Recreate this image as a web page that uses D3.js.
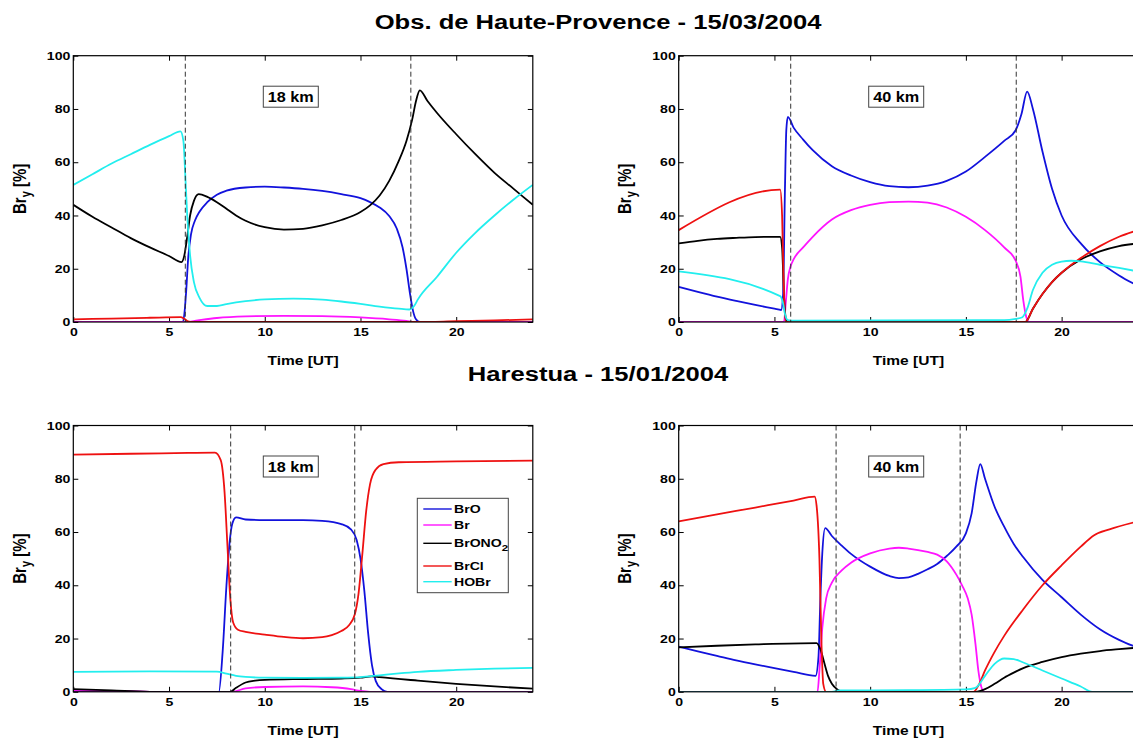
<!DOCTYPE html>
<html>
<head>
<meta charset="utf-8">
<script src="https://cdn.jsdelivr.net/npm/d3@7"></script>
<style>
body { margin: 0; background: #fff; }
svg { display: block; font-family: "Liberation Sans", Arial, sans-serif; font-weight: bold; }
</style>
</head>
<body>
<div id="chart"></div>
<script>
// Br_y partitioning, diurnal cycle (% of Br_y)

const species = ["BrO", "Br", "BrONO2", "BrCl", "HOBr"];
const xTicks = [0, 5, 10, 15, 20];
const yTicks = [0, 20, 40, 60, 80, 100];

// sunrise / sunset (dashed lines)
const ohpSun = [5.85, 17.63];
const harSun = [8.22, 14.7];

// --- Obs. de Haute-Provence, 18 km
const ohp18BrO = [[0,0],[5.7,0],[5.8,3],[5.9,12],[6.0,24],[6.15,33],[6.35,38],[6.6,41.5],[7,45],[7.5,47.8],[8,49.3],[9,50.5],[10,50.8],[11,50.5],[12,50],[13,49.2],[14,48],[15,46.5],[15.5,45],[16,43],[16.5,39.8],[16.9,35],[17.2,28],[17.4,20],[17.6,10],[17.75,4],[17.9,1],[18.1,0],[24,0]];
const ohp18Br = [[0,0],[5.9,0],[6.5,0.6],[7.5,1.5],[9,2.1],[11,2.3],[13,2.2],[15,1.7],[16.5,1.0],[17.4,0.4],[17.8,0],[24,0]];
const ohp18BrONO2 = [[0,44],[1,39.5],[2,35.5],[3,31.5],[4,28],[5,24.8],[5.65,22.5],[5.8,25],[5.95,32],[6.1,40],[6.3,45.5],[6.55,48],[7,47],[7.5,45],[8,42.5],[8.5,40],[9,38],[10,35.6],[11,34.7],[12,35],[13,36.3],[14,38.3],[15,41.3],[15.5,43.8],[16,47.5],[16.5,53],[17,60.5],[17.4,68],[17.7,76],[17.9,83],[18.1,87],[18.5,83],[19,78.5],[20,70.5],[21,63],[22,56],[23,50],[24,44]];
const ohp18BrCl = [[0,1],[2,1.3],[4,1.6],[5.6,1.8],[5.8,1.2],[6.0,0.2],[6.2,0],[18,0],[20,0.3],[22,0.6],[24,1]];
const ohp18HOBr = [[0,51.5],[1,55.5],[2,59.5],[3,63],[4,66.5],[5,69.8],[5.6,71.6],[5.75,68],[5.85,55],[5.95,40],[6.1,25],[6.3,15],[6.6,9],[7,6],[7.5,6],[8,6.7],[9,7.8],[10,8.5],[11.5,8.8],[13,8.4],[14,7.7],[15,6.8],[16,5.8],[17,5.0],[17.55,4.7],[17.8,6],[18,8.5],[19,17],[20,26],[21,33.5],[22,40],[23,46],[24,51.5]];

// --- Obs. de Haute-Provence, 40 km
const ohp40BrO = [[0,13.2],[1,11.3],[2,9.5],[3,7.9],[4,6.4],[5,5],[5.35,4.5],[5.45,10],[5.55,50],[5.62,72],[5.7,77],[6,73],[6.5,68.5],[7,64.5],[8,58.5],[9,55],[10,52.5],[11,51],[12,50.6],[13,51.2],[14,53],[15,56.5],[16,62],[17,68],[17.6,72],[17.9,78],[18.2,86.5],[18.5,80],[19,64],[19.5,50],[20,40],[21,29.5],[22,22.5],[23,17.5],[24,13.5]];
const ohp40Br = [[0,0],[5.5,0],[5.6,8],[5.7,16],[5.85,21],[6,23.5],[6.5,28],[7,32],[8,38.5],[9,42],[10,44],[11,45],[12,45.2],[13,44.8],[14,43],[15,39.5],[16,34.5],[17,28],[17.6,23],[17.85,17],[18,8],[18.15,2],[18.3,0],[24,0]];
const ohp40BrONO2 = [[0,29.5],[1,30.5],[2,31.2],[3,31.6],[4,31.9],[5.3,32],[5.4,28],[5.5,10],[5.6,1],[5.7,0],[18.1,0],[18.5,5],[19,10.5],[19.5,15],[20,18.5],[21,23.5],[22,26.5],[23,28.5],[24,29.5]];
const ohp40BrCl = [[0,34.5],[5.3,49.7],[5.4,40],[5.5,10],[5.6,0],[18.1,0],[18.5,5],[19,10.5],[19.5,15],[20,18.5],[21,24],[22,28.5],[23,32],[24,34.5]];
const ohp40HOBr = [[0,19],[5.3,9.7],[5.45,7],[5.55,3],[5.7,0.7],[6,0.5],[17,0.7],[17.6,1.2],[17.95,1.8],[18.2,5],[18.5,12],[19,18.5],[19.5,21.5],[20,22.7],[20.5,23],[21,22.8],[22,21.5],[23,20.3],[24,19]];

// --- Harestua, 18 km
const har18BrO = [[0,0],[7.6,0],[7.8,15],[8.0,40],[8.15,55],[8.3,63],[8.5,65.5],[9,64.7],[10,64.5],[12,64.5],[13,64.2],[14,63],[14.5,61],[14.8,57],[15,50],[15.2,38],[15.4,22],[15.6,10],[15.8,4],[16.1,1],[16.4,0],[24,0]];
const har18Br = [[0,0.4],[3,0.2],[4,0],[8.3,0],[9,1.3],[10,1.8],[12,2],[13.5,1.7],[14.5,1],[15,0.3],[15.5,0],[24,0]];
const har18BrONO2 = [[0,1],[2,0.5],[4,0],[8.2,0],[8.5,1.5],[9,3.5],[9.5,4.2],[10,4.5],[12,4.8],[14,5],[15,5.3],[15.6,5.8],[16,5.5],[18,4.2],[20,3],[22,2],[24,1.2]];
const har18BrCl = [[0,89.1],[3,89.4],[6,89.7],[7.4,89.8],[7.7,87],[7.9,75],[8.05,55],[8.2,35],[8.35,26],[8.6,23.3],[9,22.5],[10,21.5],[11,20.6],[12,20.1],[13,20.5],[13.5,21.3],[14,22.8],[14.4,25],[14.7,29],[14.9,37],[15.1,52],[15.3,68],[15.5,78],[15.8,83.5],[16.2,85.5],[17,86.2],[20,86.5],[24,86.8]];
const har18HOBr = [[0,7.5],[4,7.7],[7.5,7.6],[8,6.8],[8.5,6],[9,5.6],[10,5.3],[12,5.2],[14,5.3],[15,5.5],[16,6.2],[17,6.9],[18,7.5],[20,8.2],[22,8.7],[24,9]];

// --- Harestua, 40 km
const har40BrO = [[0,17],[1,15.2],[2,13.5],[3,11.8],[4,10.3],[5,8.9],[6,7.5],[7.15,6],[7.3,13],[7.4,35],[7.5,52],[7.65,61.5],[8,58.5],[8.5,55],[9,51.8],[10,47],[11,43.5],[11.5,42.7],[12,43],[12.5,44.3],[13,46],[13.5,48],[14,51],[14.5,54.5],[15,59.5],[15.3,67],[15.55,79],[15.75,85.5],[16,80],[16.5,69.5],[17,62],[17.5,55.5],[18,50.5],[19,42],[20,35.5],[21,29],[22,23.5],[23,19.5],[24,16.5]];
const har40Br = [[0,0],[7.25,0],[7.35,8],[7.5,24],[7.7,35],[8,41],[8.5,45.5],[9,48.5],[10,52],[11,53.8],[11.5,54.1],[12,53.8],[13,52.5],[13.5,51.5],[14,49],[14.5,44],[14.8,40],[15.1,35],[15.3,29],[15.5,18],[15.65,8],[15.8,2],[15.95,0],[24,0]];
const har40BrONO2 = [[0,16.7],[2,17.3],[4,17.8],[7.2,18.3],[7.4,16],[7.6,11],[7.8,6],[8.0,3],[8.3,0.8],[8.6,0],[15.5,0],[16,1],[16.5,3],[17,5.3],[17.5,7.2],[18,8.9],[19,11.2],[20,13],[21,14.3],[22,15.3],[23,16],[24,16.6]];
const har40BrCl = [[0,64],[2,66.6],[4,69.2],[6,71.8],[7.1,73.3],[7.2,70],[7.35,50],[7.45,20],[7.55,3],[7.7,0],[15.4,0],[15.7,3],[16,8],[16.5,15],[17,21],[18,31],[19,40],[20,47.5],[21,54.5],[21.7,58.8],[22.5,61],[24,64]];
const har40HOBr = [[0,0],[8,0],[8.4,0.5],[12,0.6],[15,0.9],[15.5,1.5],[16,6],[16.5,10.5],[17,12.5],[17.5,12.3],[18,11],[19,8],[20,5],[21,2],[21.6,0],[24,0]];

const colors = { BrO: "#1212dc", Br: "#ff14ff", BrONO2: "#000000", BrCl: "#ee1111", HOBr: "#22eeee" };
const SX = 1.28; // the figure is stretched horizontally

const panels = [
    { x: 73.3, y: 55.7, label: "18 km", sun: ohpSun, data: [ohp18BrO, ohp18Br, ohp18BrONO2, ohp18BrCl, ohp18HOBr] },
    { x: 678.7, y: 55.7, label: "40 km", sun: ohpSun, data: [ohp40BrO, ohp40Br, ohp40BrONO2, ohp40BrCl, ohp40HOBr] },
    { x: 73.3, y: 425.5, label: "18 km", sun: harSun, data: [har18BrO, har18Br, har18BrONO2, har18BrCl, har18HOBr], legend: true },
    { x: 678.7, y: 425.5, label: "40 km", sun: harSun, data: [har40BrO, har40Br, har40BrONO2, har40BrCl, har40HOBr] }
];
const pw = 459.5, ph = 266.3;

const svg = d3.select("#chart").append("svg")
    .attr("width", 1133)
    .attr("height", 740);

function sText(g, x, y, str, size, anchor, sx) {
    return g.append("text")
        .attr("transform", `translate(${x},${y}) scale(${sx || SX},1)`)
        .attr("text-anchor", anchor || "middle")
        .style("font-size", size + "px")
        .text(str);
}

sText(svg, 598, 29, "Obs. de Haute-Provence - 15/03/2004", 20);
sText(svg, 598, 381, "Harestua - 15/01/2004", 20);

const x = d3.scaleLinear().domain([0, 24]).range([0, pw]);
const y = d3.scaleLinear().domain([0, 100]).range([ph, 0]);

const line = d3.line()
    .x(d => x(d[0]))
    .y(d => y(d[1]))
    .curve(d3.curveMonotoneX);

panels.forEach((p, pi) => {
    const g = svg.append("g").attr("transform", `translate(${p.x},${p.y})`);

    g.append("clipPath").attr("id", "clip" + pi)
      .append("rect").attr("width", pw).attr("height", ph);

    // axes, ticks pointing inwards
    const ax = g.append("g").attr("transform", `translate(0,${ph})`)
        .call(d3.axisBottom(x).tickValues(xTicks).tickSizeInner(-5).tickSizeOuter(0).tickPadding(6));
    const ay = g.append("g")
        .call(d3.axisLeft(y).tickValues(yTicks).tickSizeInner(-5).tickSizeOuter(0).tickPadding(2.3));
    g.append("g")
        .call(d3.axisTop(x).tickValues(xTicks).tickSizeInner(-5).tickSizeOuter(0).tickFormat(""));
    g.append("g").attr("transform", `translate(${pw},0)`)
        .call(d3.axisRight(y).tickValues(yTicks).tickSizeInner(-5).tickSizeOuter(0).tickFormat(""));

    g.selectAll(".domain").remove();
    g.selectAll(".tick line").attr("stroke", "#000");
    [ax, ay].forEach(a => a.selectAll("text")
        .attr("transform", `scale(${SX},1)`)
        .attr("fill", "#000")
        .style("font-size", "11px")
        .style("font-family", "'Liberation Sans', Arial, sans-serif")
        .style("font-weight", "bold"));

    // curves
    const curves = g.append("g").attr("clip-path", `url(#clip${pi})`);
    p.data.forEach((s, i) => {
        curves.append("path")
            .datum(s)
            .attr("fill", "none")
            .attr("stroke", colors[species[i]])
            .attr("stroke-width", 1.8)
            .attr("d", line);
    });

    // sunrise / sunset
    g.selectAll(".sun")
        .data(p.sun)
        .enter().append("line")
        .attr("x1", d => x(d)).attr("x2", d => x(d))
        .attr("y1", 0).attr("y2", ph)
        .attr("stroke", "#333")
        .attr("stroke-width", 1)
        .attr("stroke-dasharray", "5,3");

    // frame
    g.append("rect")
        .attr("width", pw).attr("height", ph)
        .attr("fill", "none")
        .attr("stroke", "#000")
        .attr("stroke-width", 1.2);

    // altitude box
    g.append("rect")
        .attr("x", 190).attr("y", 30.5)
        .attr("width", 55).attr("height", 21)
        .attr("fill", "#fff")
        .attr("stroke", "#444")
        .attr("stroke-width", 1);
    g.append("text")
        .attr("transform", `translate(217.5,46.5) scale(1.12,1)`)
        .attr("text-anchor", "middle")
        .style("font-size", "14.5px")
        .text(p.label);

    // axis labels
    sText(g, pw / 2, ph + 43, "Time [UT]", 13.5, "middle", 1.15);
    const yl = g.append("text")
        .attr("transform", `translate(-47.5,${ph / 2}) rotate(-90) scale(1,${SX})`)
        .attr("text-anchor", "middle")
        .style("font-size", "15px");
    yl.append("tspan").text("Br");
    yl.append("tspan").attr("dy", 4).style("font-size", "11px").text("y");
    yl.append("tspan").attr("dy", -4).text(" [%]");

    if (p.legend) {
        const lg = g.append("g").attr("transform", "translate(344,72.8)");
        lg.append("rect")
            .attr("width", 91).attr("height", 94.4)
            .attr("fill", "#fff")
            .attr("stroke", "#444")
            .attr("stroke-width", 1);
        const rowY = [10.7, 26.7, 45, 67.7, 83.4];
        species.forEach((sp, i) => {
            lg.append("line")
                .attr("x1", 6).attr("x2", 34.4)
                .attr("y1", rowY[i]).attr("y2", rowY[i])
                .attr("stroke", colors[sp])
                .attr("stroke-width", 1.4);
            const t = lg.append("text")
                .attr("transform", `translate(36.7,${rowY[i] + 4}) scale(${SX},1)`)
                .style("font-size", "11px");
            if (sp === "BrONO2") {
                t.append("tspan").text("BrONO");
                t.append("tspan").attr("dy", 4).style("font-size", "9px").text("2");
            } else {
                t.text(sp);
            }
        });
    }
});
</script>
</body>
</html>
